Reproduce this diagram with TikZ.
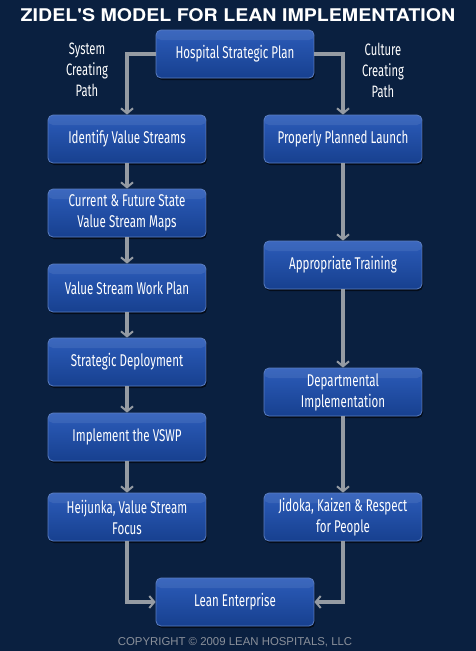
\documentclass[tikz,border=0pt]{standalone}
\usepackage{fontspec}
\setmainfont{Fira Sans}[FakeStretch=0.68]
\newfontfamily\titlefont{TeX Gyre Heros}[FakeStretch=1.12]
\newfontfamily\copyfont{Liberation Sans}
\usetikzlibrary{arrows.meta, positioning, shadows}
\definecolor{bgnavy}{HTML}{0A2040}
\definecolor{boxTop}{HTML}{2C5CBA}
\definecolor{boxBot}{HTML}{17408F}
\definecolor{boxEdge}{HTML}{5A7DC0}
\definecolor{lineGrey}{HTML}{959BA3}
\definecolor{copyGrey}{HTML}{8A909A}
\tikzset{
  stepbox/.style={rectangle, rounded corners=5pt, draw=boxEdge, line width=0.8pt,
                  top color=boxTop, bottom color=boxBot, text=white, align=center,
                  font=\fontsize{17}{21}\selectfont,
                  minimum width=158pt, minimum height=48pt,
                  drop shadow={shadow xshift=1pt, shadow yshift=-2pt, opacity=0.6, fill=black},
                  path picture={\fill[white, opacity=0.08]
                    (path picture bounding box.north west) rectangle
                    ([yshift=-10pt]path picture bounding box.north east);}},
  pathlabel/.style={text=white, align=center, font=\fontsize{16.5}{21}\selectfont},
  flow/.style={-{Straight Barb[length=5pt, width=12pt, line width=2pt]}, draw=lineGrey,
               line width=3.5pt},
  banner/.style={text=white, font=\titlefont\bfseries\fontsize{17.5}{20}\selectfont},
  credit/.style={text=copyGrey, font=\copyfont\fontsize{11.4}{13}\selectfont},
}

\begin{document}
\begin{tikzpicture}[x=1pt, y=-1pt]

\fill[bgnavy] (0,0) rectangle (476,651);
\useasboundingbox (0,0) rectangle (476,651);

\node[banner] (ttl) at (238,15) {ZIDEL'S MODEL FOR LEAN IMPLEMENTATION};
\node[stepbox] (hsp) at (235,54) {Hospital Strategic Plan};
\node[pathlabel] (sys) at (87,70) {System\\ Creating\\ Path};
\node[pathlabel] (cul) at (383,70) {Culture\\ Creating\\ Path};

% --- system creating path ---
\node[stepbox] (ivs)  at (127,139) {Identify Value Streams};
\node[stepbox] (vsm)  at (127,213) {Current \& Future State\\ Value Stream Maps};
\node[stepbox] (wp)   at (127,288) {Value Stream Work Plan};
\node[stepbox] (sd)   at (127,362) {Strategic Deployment};
\node[stepbox] (vswp) at (127,437) {Implement the VSWP};
\node[stepbox] (hjk)  at (127,517) {Heijunka, Value Stream\\ Focus};

% --- culture creating path ---
\node[stepbox] (ppl)  at (343,139) {Properly Planned Launch};
\node[stepbox] (trn)  at (343,265) {Appropriate Training};
\node[stepbox] (dept) at (343,392) {Departmental\\ Implementation};
\node[stepbox] (jdk)  at (343,517) {Jidoka, Kaizen \& Respect\\ for People};

\node[stepbox] (lean) at (235,602) {Lean Enterprise};

\node[credit] (cpy) at (235,642) {COPYRIGHT \textcopyright{} 2009 LEAN HOSPITALS, LLC};

% --- connectors ---
\draw[flow] (hsp.west) -| (ivs.north);
\draw[flow] (hsp.east) -| (ppl.north);
\draw[flow] (ivs) -- (vsm);
\draw[flow] (vsm) -- (wp);
\draw[flow] (wp) -- (sd);
\draw[flow] (sd) -- (vswp);
\draw[flow] (vswp) -- (hjk);
\draw[flow] (ppl) -- (trn);
\draw[flow] (trn) -- (dept);
\draw[flow] (dept) -- (jdk);
\draw[flow] (hjk.south) |- (lean.west);
\draw[flow] (jdk.south) |- (lean.east);

\end{tikzpicture}
\end{document}
